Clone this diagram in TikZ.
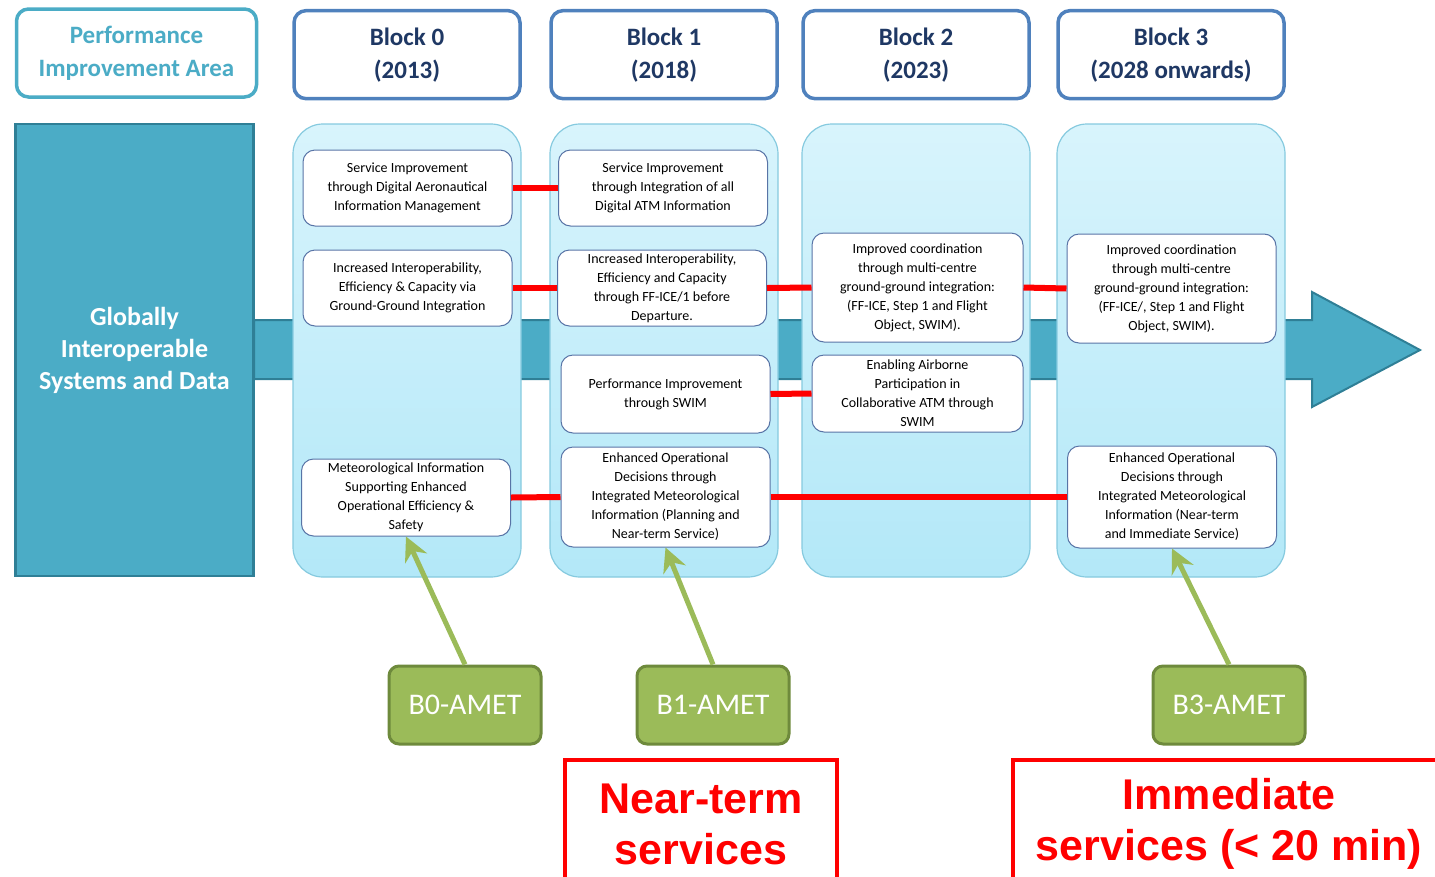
\documentclass[tikz,border=0pt]{standalone}
\usepackage{fontspec}
\setmainfont{Carlito}
\newfontfamily\arialfont{Liberation Sans}
\usetikzlibrary{positioning, arrows.meta}

\definecolor{areateal}{HTML}{4BACC6}
\definecolor{areatealdk}{HTML}{2F7F96}
\definecolor{blockblue}{HTML}{4F81BD}
\definecolor{blocknavy}{HTML}{1F3864}
\definecolor{coltop}{HTML}{D8F4FC}
\definecolor{colbot}{HTML}{B3E8F8}
\definecolor{coledge}{HTML}{86CADF}
\definecolor{svcedge}{HTML}{5874A6}
\definecolor{ametgreen}{HTML}{9BBB59}
\definecolor{ametedge}{HTML}{6E8A3C}

\begin{document}
\begin{tikzpicture}[x=1pt, y=-1pt,
  pia/.style={draw=areateal, line width=3.5pt, rounded corners=12pt, fill=white,
              minimum width=240pt, minimum height=88pt, align=center,
              font=\fontsize{25}{33}\selectfont\bfseries, text=areateal},
  hdr/.style={draw=blockblue, line width=3.5pt, rounded corners=12pt, fill=white,
              minimum width=226pt, minimum height=88pt, align=center,
              font=\fontsize{25}{33}\selectfont\bfseries, text=blocknavy},
  col/.style={draw=coledge, line width=1.2pt, rounded corners=30pt,
              top color=coltop, bottom color=colbot,
              minimum width=228pt, minimum height=453pt},
  svc/.style={draw=svcedge, line width=1pt, rounded corners=12pt, fill=white,
              minimum width=209pt, minimum height=76pt, inner sep=2pt, align=center,
              font=\fontsize{14}{19}\selectfont},
  amet/.style={draw=ametedge, line width=3pt, rounded corners=10pt, fill=ametgreen,
               minimum width=152pt, minimum height=78pt, text=white,
               font=\fontsize{30}{34}\selectfont},
  horizon/.style={draw=red, line width=4pt, minimum height=128pt, align=center,
                  text=red, font=\arialfont\fontsize{43}{51}\selectfont\bfseries},
  link/.style={red, line width=6pt},
  feed/.style={ametgreen, line width=5pt,
               -{Stealth[length=24pt, width=24pt, inset=8pt]}},
]
\useasboundingbox (0,0) rectangle (1435,876);

% Backbone band with arrow head
\draw[fill=areateal, draw=areatealdk, line width=2pt]
  (254,320) -- (1312,320) -- (1312,292) -- (1420,350)
  -- (1312,407) -- (1312,379) -- (254,379) -- cycle;

% Performance improvement area
\node[draw=areatealdk, line width=2.5pt, fill=areateal, minimum width=238pt,
      minimum height=452pt, align=center, text=white,
      font=\fontsize{26}{32}\selectfont\bfseries] (gisd) at (134.5,350)
  {Globally\\Interoperable\\Systems and Data};

% Block columns
\node[col] (col0) at (407,350.5) {};
\node[col] (col1) at (664,350.5) {};
\node[col] (col2) at (916,350.5) {};
\node[col] (col3) at (1171,350.5) {};

% Headers
\node[pia] (pia) at (136.5,53) {Performance\\Improvement Area};
\node[hdr, above=23pt of col0] (b0) {Block 0\\(2013)};
\node[hdr, above=23pt of col1] (b1) {Block 1\\(2018)};
\node[hdr, above=23pt of col2] (b2) {Block 2\\(2023)};
\node[hdr, above=23pt of col3] (b3) {Block 3\\(2028 onwards)};

% Block 0 modules
\node[svc] (s0a) at (407.5,188) {Service Improvement\\through Digital Aeronautical\\Information Management};
\node[svc] (s0b) at (407.5,288) {Increased Interoperability,\\Efficiency \& Capacity via\\Ground-Ground Integration};
\node[svc, minimum height=77pt] (s0c) at (406,497.5) {Meteorological Information\\Supporting Enhanced\\Operational Efficiency \&\\Safety};

% Block 1 modules
\node[svc] (s1a) at (663,188) {Service Improvement\\through Integration of all\\Digital ATM Information};
\node[svc] (s1b) at (662,288) {Increased Interoperability,\\Efficiency and Capacity\\through FF-ICE/1 before\\Departure.};
\node[svc, minimum height=78pt] (s1c) at (665.5,394) {Performance Improvement\\through SWIM};
\node[svc, minimum height=100pt] (s1d) at (665.5,497) {Enhanced Operational\\Decisions through\\Integrated Meteorological\\Information (Planning and\\Near-term Service)};

% Block 2 modules
\node[svc, minimum width=211pt, minimum height=109pt] (s2a) at (917.5,287.5) {Improved coordination\\through multi-centre\\ground-ground integration:\\(FF-ICE, Step 1 and Flight\\Object, SWIM).};
\node[svc, minimum width=211pt, minimum height=77pt] (s2b) at (917.5,393.5) {Enabling Airborne\\Participation in\\Collaborative ATM through\\SWIM};

% Block 3 modules
\node[svc, minimum height=109pt] (s3a) at (1171.5,288.5) {Improved coordination\\through multi-centre\\ground-ground integration:\\(FF-ICE/, Step 1 and Flight\\Object, SWIM).};
\node[svc, minimum height=102pt] (s3b) at (1172,497) {Enhanced Operational\\Decisions through\\Integrated Meteorological\\Information (Near-term\\and Immediate Service)};

% Threads between blocks
\draw[link] (s0a.east) -- (s1a.west);
\draw[link] (s0b.east) -- (s1b.west);
\draw[link] (s1b.east) -- (s2a.west);
\draw[link] (s2a.east) -- (s3a.west);
\draw[link] (s1c.east) -- (s2b.west);
\draw[link] (s0c.east) -- (s1d.west);
\draw[link] (s1d.east) -- (s3b.west);

% AMET modules
\node[amet] (a0) at (465,705) {B0-AMET};
\node[amet] (a1) at (713,705) {B1-AMET};
\node[amet] (a3) at (1229,705) {B3-AMET};

\draw[feed] (a0.north) -- (s0c.south);
\draw[feed] (a1.north) -- (s1d.south);
\draw[feed] (a3.north) -- (s3b.south);

% Service horizons
\node[horizon, minimum width=272pt] (near) at (701,824) {Near-term\\services};
\node[horizon, minimum width=432pt] (imm) at (1229,824) {Immediate\\services (< 20 min)};
\end{tikzpicture}
\end{document}
